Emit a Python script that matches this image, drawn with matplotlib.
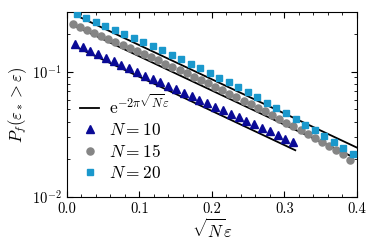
import numpy as np
import matplotlib
matplotlib.use("Agg")
import matplotlib.pyplot as plt
from matplotlib.ticker import MultipleLocator, FormatStrFormatter

plt.rcParams['mathtext.fontset'] = 'cm'
plt.rcParams['font.family'] = ['cmr10', 'DejaVu Serif']
plt.rcParams['axes.formatter.use_mathtext'] = True
plt.rcParams['axes.unicode_minus'] = False

# N = 10 (triangles)
x10 = [0.011, 0.0218, 0.0325, 0.0432, 0.054, 0.0648, 0.0755, 0.0862, 0.097, 0.1078,
       0.1185, 0.1292, 0.14, 0.1508, 0.1615, 0.1722, 0.183, 0.1938, 0.2045, 0.2152,
       0.226, 0.2368, 0.2475, 0.2582, 0.269, 0.2798, 0.2905, 0.3012, 0.312]
y10 = [0.1667, 0.1563, 0.1466, 0.1374, 0.1288, 0.1208, 0.1132, 0.1062, 0.0995, 0.0933,
       0.0875, 0.0822, 0.0771, 0.0723, 0.0678, 0.0635, 0.0596, 0.0558, 0.0524, 0.0491,
       0.0460, 0.0432, 0.0405, 0.0380, 0.0356, 0.0334, 0.0313, 0.0293, 0.0275]

# N = 15 (circles)
x15 = [0.0083, 0.0181, 0.0279, 0.0377, 0.0475, 0.0574, 0.0672, 0.077, 0.0868, 0.0966,
       0.1064, 0.1162, 0.126, 0.1358, 0.1456, 0.1555, 0.1653, 0.1751, 0.1849, 0.1947,
       0.2045, 0.2143, 0.2241, 0.2339, 0.2437, 0.2536, 0.2634, 0.2732, 0.283, 0.2928,
       0.3026, 0.3124, 0.3222, 0.332, 0.3418, 0.3517, 0.3615, 0.3713, 0.3811, 0.391]
y15 = [0.2410, 0.2284, 0.2164, 0.2049, 0.1940, 0.1836, 0.1736, 0.1642, 0.1552, 0.1466,
       0.1385, 0.1307, 0.1233, 0.1163, 0.1096, 0.1033, 0.0972, 0.0915, 0.0861, 0.0809,
       0.0760, 0.0714, 0.0670, 0.0628, 0.0589, 0.0551, 0.0516, 0.0483, 0.0451, 0.0421,
       0.0393, 0.0366, 0.0342, 0.0318, 0.0296, 0.0275, 0.0256, 0.0238, 0.0220, 0.0197]

# N = 20 (squares)
x20 = [0.0138, 0.0269, 0.04, 0.0531, 0.0662, 0.0794, 0.0925, 0.1056, 0.1187, 0.1318,
       0.1449, 0.158, 0.1711, 0.1842, 0.1973, 0.2104, 0.2235, 0.2366, 0.2498, 0.2629,
       0.276, 0.2891, 0.3022, 0.3153, 0.3284, 0.3415, 0.3546, 0.3678, 0.3809, 0.394]
y20 = [0.2897, 0.2697, 0.2509, 0.2333, 0.2167, 0.2012, 0.1866, 0.1729, 0.1601, 0.1480,
       0.1366, 0.1260, 0.1160, 0.1067, 0.0980, 0.0898, 0.0822, 0.0751, 0.0685, 0.0624,
       0.0567, 0.0514, 0.0465, 0.0420, 0.0379, 0.0341, 0.0306, 0.0274, 0.0245, 0.0220]

# reference curves C * exp(-2*pi*x)
line_C = {10: 0.171, 15: 0.249, 20: 0.306}
line_range = {10: (0.011, 0.315), 15: (0.0083, 0.391), 20: (0.0138, 0.40)}

fig = plt.figure(figsize=(3.74, 2.49), dpi=100)
ax = fig.add_axes([0.1783, 0.2088, 0.7762, 0.743])

for i, N in enumerate([10, 15, 20]):
    a, b = line_range[N]
    xl = np.linspace(a, b, 50)
    ax.plot(xl, line_C[N] * np.exp(-2 * np.pi * xl), color='black', lw=1.3, zorder=2,
            label=r'$\mathrm{e}^{-2\pi\sqrt{N}\varepsilon}$' if i == 0 else None)

ax.plot(x10, y10, ls='none', marker='^', ms=5.8, color='#0a0a96', zorder=3, label=r'$N = 10$')
ax.plot(x15, y15, ls='none', marker='o', ms=5.1, color='#858585', zorder=3, label=r'$N = 15$')
ax.plot(x20, y20, ls='none', marker='s', ms=4.8, color='#1a98cc', zorder=3, label=r'$N = 20$')

ax.set_yscale('log')
ax.set_xlim(0, 0.4)
ax.set_ylim(0.01, 0.3)
ax.xaxis.set_major_locator(MultipleLocator(0.1))
ax.xaxis.set_minor_locator(MultipleLocator(0.02))
ax.xaxis.set_major_formatter(FormatStrFormatter('%.1f'))
ax.tick_params(which='both', direction='in', top=True, right=True, labelsize=10.5)
ax.tick_params(which='major', length=4, width=0.8)
ax.tick_params(which='minor', length=2, width=0.6)

ax.set_xlabel(r'$\sqrt{N}\varepsilon$', fontsize=12, labelpad=2)
ax.set_ylabel(r'$P_f(\varepsilon_* > \varepsilon)$', fontsize=12, labelpad=2)

ax.legend(loc='upper left', bbox_to_anchor=(0.01, 0.62), frameon=False, fontsize=12.5,
          numpoints=1, handlelength=1.1, handletextpad=0.55, labelspacing=0.3,
          borderaxespad=0.2)

fig.savefig('out.png', dpi=100)
